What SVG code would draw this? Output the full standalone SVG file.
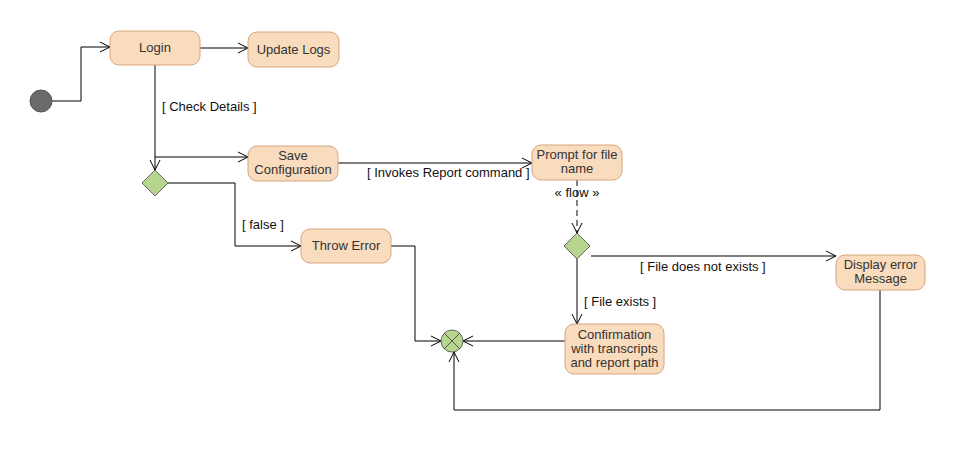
<svg xmlns="http://www.w3.org/2000/svg" width="955" height="461" viewBox="0 0 955 461">
<defs>
<style>
.n{fill:#f9dbbd;stroke:#d6a57e;stroke-width:1}
.t{font-family:"Liberation Sans",Arial,sans-serif;font-size:13px;fill:#333;text-anchor:middle}
.l{font-family:"Liberation Sans",Arial,sans-serif;font-size:13px;fill:#111}
.c{fill:none;stroke:#000;stroke-width:1}
.d{fill:#b5d68c;stroke:#666;stroke-width:1}
</style>
<marker id="a" markerWidth="12" markerHeight="12" refX="11" refY="6" orient="auto" markerUnits="userSpaceOnUse">
<path d="M1,1 L11,6 L1,11" fill="none" stroke="#000" stroke-width="1"/>
</marker>
</defs>
<rect width="955" height="461" fill="#fff"/>
<g id="connectors">
<path class="c" d="M52,101 H81 V47 H110" marker-end="url(#a)"/>
<path class="c" d="M200,48 H248" marker-end="url(#a)"/>
<path class="c" d="M155,65 V170" marker-end="url(#a)"/>
<path class="c" d="M155,157 H248" marker-end="url(#a)"/>
<path class="c" d="M168,183 H235 V246 H301" marker-end="url(#a)"/>
<path class="c" d="M338,163 H532" marker-end="url(#a)"/>
<path class="c" d="M577,180 V233" stroke-dasharray="6,4" marker-end="url(#a)"/>
<path class="c" d="M591,256 H836" marker-end="url(#a)"/>
<path class="c" d="M577,259 V324" marker-end="url(#a)"/>
<path class="c" d="M565,341 H463" marker-end="url(#a)"/>
<path class="c" d="M391,246 H415 V341 H441" marker-end="url(#a)"/>
<path class="c" d="M880,290 V410 H454 V352" marker-end="url(#a)"/>
<text class="l" x="162" y="111">[ Check Details ]</text>
<text class="l" x="367" y="177">[ Invokes Report command ]</text>
<text class="l" x="242" y="229">[ false ]</text>
<text class="t" x="577" y="197" style="fill:#111">« flow »</text>
<text class="l" x="640" y="271">[ File does not exists ]</text>
<text class="l" x="584" y="306">[ File exists ]</text>
</g>
<g id="start"><circle cx="41" cy="101" r="11" fill="#6b6b6b" stroke="#555"/></g>
<g id="login"><rect class="n" x="110" y="31" width="90" height="34" rx="9"/><text class="t" x="155" y="52">Login</text></g>
<g id="updatelogs"><rect class="n" x="248" y="32" width="91" height="35" rx="9"/><text class="t" x="293.5" y="54">Update Logs</text></g>
<g id="decision1"><path class="d" d="M155,170 L168,183 L155,196 L142,183 Z"/></g>
<g id="saveconfig"><rect class="n" x="248" y="146" width="90" height="35" rx="9"/><text class="t" x="293" y="160">Save</text><text class="t" x="293" y="174">Configuration</text></g>
<g id="prompt"><rect class="n" x="532" y="145" width="90" height="35" rx="9"/><text class="t" x="577" y="159">Prompt for file</text><text class="t" x="577" y="173">name</text></g>
<g id="throwerror"><rect class="n" x="301" y="229" width="90" height="34" rx="9"/><text class="t" x="346" y="250">Throw Error</text></g>
<g id="decision2"><path class="d" d="M577,233 L590,246 L577,259 L564,246 Z"/></g>
<g id="displayerror"><rect class="n" x="836" y="255" width="89" height="35" rx="9"/><text class="t" x="880.5" y="269">Display error</text><text class="t" x="880.5" y="283">Message</text></g>
<g id="confirmation"><rect class="n" x="565" y="324" width="99" height="50" rx="9"/><text class="t" x="614.5" y="339">Confirmation</text><text class="t" x="614.5" y="353">with transcripts</text><text class="t" x="614.5" y="367">and report path</text></g>
<g id="merge"><circle class="d" cx="452" cy="341" r="11"/><path d="M444.2,333.2 L459.8,348.8 M459.8,333.2 L444.2,348.8" stroke="#555" stroke-width="1"/></g>
</svg>
